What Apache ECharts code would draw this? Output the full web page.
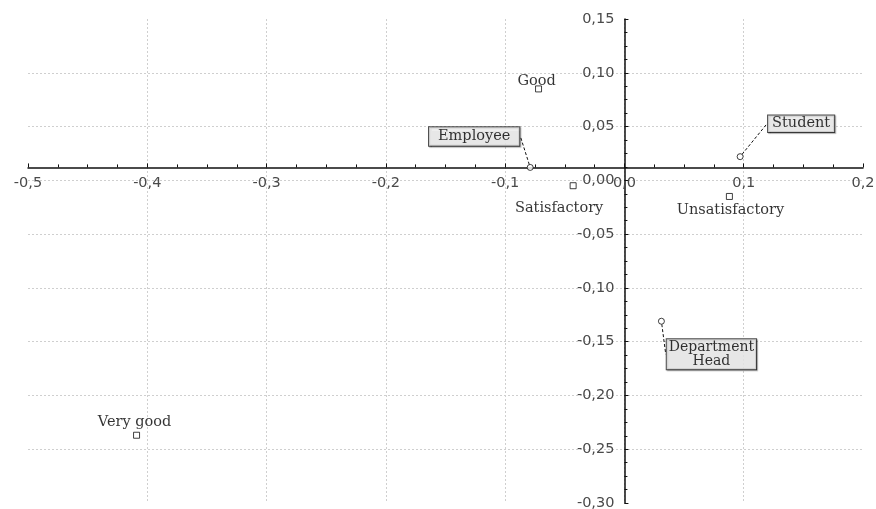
<!DOCTYPE html>
<html>
<head>
<meta charset="utf-8">
<script src="https://cdn.jsdelivr.net/npm/echarts@6/dist/echarts.min.js"></script>
<style>html,body{margin:0;padding:0;background:#fff}#c{width:876px;height:509px}</style>
</head>
<body>
<div id="c"></div>
<script>
// Data
var gradeNames = ['Good', 'Satisfactory', 'Unsatisfactory', 'Very good'];
var gradeX = [-0.072, -0.043, 0.088, -0.409];
var gradeY = [0.085, -0.005, -0.015, -0.237];

var roleNames = ['Employee', 'Student', 'Department\nHead'];
var roleX = [-0.079, 0.097, 0.031];
var roleY = [0.012, 0.022, -0.131];

var xTicks = { min: -0.5, max: 0.2, step: 0.1 };
var yTicks = { min: -0.30, max: 0.15, step: 0.05 };
var xAxisCrossY = 0.012; // the x axis line is drawn slightly above y = 0
var yAxisCrossX = 0;

// Styles / layout (not data)
var gradeLabelOffset = [[-2, -8], [-14, 23], [1, 14], [-2, -13]];
var roleLabelShift = [[-56, -31], [61, -33], [50, 33]];
var rolePadding = [[2, 9], [1, 4], [1, 2]];
var roleFontSize = [14.5, 14.5, 14];
var G = { left: 28, right: 13, top: 19, bottom: 6 };

function comma(v, d) { return (Math.abs(v) < 1e-9 ? 0 : v).toFixed(d).replace('.', ','); }

var serif = 'DejaVu Serif';
var sans = 'DejaVu Sans';
var gradeData = gradeNames.map(function (n, i) {
  return {
    name: n, value: [gradeX[i], gradeY[i]],
    label: { offset: gradeLabelOffset[i] }
  };
});
var roleData = roleNames.map(function (n, i) {
  return {
    name: n, value: [roleX[i], roleY[i]],
    label: { padding: rolePadding[i], fontSize: roleFontSize[i], lineHeight: roleFontSize[i] }
  };
});

var gridLine = { show: true, showMinLine: false, showMaxLine: false,
  lineStyle: { color: '#cfcfcf', type: [2, 2] } };
var chart = echarts.init(document.getElementById('c'));
chart.setOption({
  animation: false,
  grid: { left: G.left, right: G.right, top: G.top, bottom: G.bottom, containLabel: false, outerBoundsMode: 'none' },
  xAxis: {
    type: 'value', position: 'bottom', min: xTicks.min, max: xTicks.max, interval: xTicks.step,
    axisLine: { onZero: false, lineStyle: { color: '#111', width: 1.5 } },
    axisTick: { inside: true, length: 4, lineStyle: { color: '#111' } },
    minorTick: { show: true, splitNumber: 4, length: 3, lineStyle: { color: '#111' } },
    axisLabel: { margin: 8, color: '#4a4a4a', fontFamily: sans, fontSize: 14.5, hideOverlap: false,
      formatter: function (v) { return comma(v, 1); } },
    splitLine: gridLine
  },
  yAxis: {
    type: 'value', position: 'left', min: yTicks.min, max: yTicks.max, interval: yTicks.step,
    axisLine: { onZero: false, lineStyle: { color: '#111', width: 1.5 } },
    axisTick: { inside: true, length: 4, lineStyle: { color: '#111' } },
    minorTick: { show: true, splitNumber: 4, length: 3, lineStyle: { color: '#111' } },
    axisLabel: { margin: 10, color: '#4a4a4a', fontFamily: sans, fontSize: 14.5, hideOverlap: false,
      formatter: function (v) { return comma(v, 2); } },
    splitLine: gridLine
  },
  series: [{
    type: 'scatter', symbol: 'rect', symbolSize: 6,
    itemStyle: { color: '#fff', borderColor: '#111', borderWidth: 1 },
    label: { show: true, position: 'inside', formatter: '{b}', fontFamily: serif, fontSize: 14.5, color: '#000' },
    data: gradeData
  }, {
    type: 'scatter', symbol: 'circle', symbolSize: 6,
    itemStyle: { color: '#fff', borderColor: '#111', borderWidth: 1 },
    label: {
      show: true, position: 'inside', formatter: '{b}', fontFamily: serif,
      color: '#000', align: 'center',
      backgroundColor: '#f2f2f2', borderColor: '#222', borderWidth: 1,
      shadowColor: 'rgba(0,0,0,0.35)', shadowOffsetX: 1, shadowOffsetY: 1, shadowBlur: 1
    },
    labelLine: { show: true, lineStyle: { color: '#111', width: 1, type: [3, 2] } },
    labelLayout: function (p) {
      var s = roleLabelShift[p.dataIndex];
      return { dx: s[0], dy: s[1] };
    },
    data: roleData
  }]
});

// Move the axes so they cross inside the plot, using the library's own scales
var origin = chart.convertToPixel({ gridIndex: 0 }, [yAxisCrossX, xAxisCrossY]);
var H = 509;
chart.setOption({
  xAxis: { offset: -((H - G.bottom) - origin[1]) },
  yAxis: { offset: -(origin[0] - G.left) }
});
</script>
</body>
</html>
